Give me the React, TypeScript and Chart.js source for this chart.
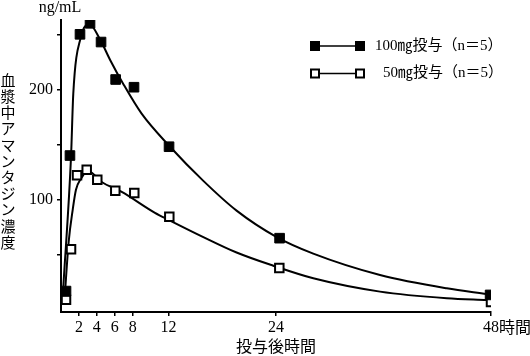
import { useEffect, useRef } from "react";
import { Chart, registerables } from "chart.js";

Chart.register(...registerables);

// ---- data ----
const xTickValues = [2, 4, 6, 8, 12, 24, 48];
const yTickValues = [50, 100, 150, 200, 250];
const yLabeledTicks = [100, 200];

const hours100 = [0.56, 1.0, 2.12, 3.24, 4.47, 6.1, 8.15, 12.06, 24.4, 47.9];
const conc100 = [17, 140, 250, 260, 243, 209, 202, 148, 65, 13.5];
const hours50 = [0.56, 1.12, 1.79, 2.87, 4.05, 6.06, 8.18, 12.09, 24.37, 48];
const conc50 = [9, 55, 122, 127, 118, 108, 106, 84.5, 38, 7];

// fitted curves
const curveHours100 = [0.26, 1.12, 1.37, 2.2, 3.2, 4.32, 5.47, 6.95, 9.0, 12.17, 15.89, 19.6, 24.08, 28.16, 35.61, 43.06, 47.52];
const curveConc100 = [21, 139, 196, 247, 259, 246, 227, 205, 178, 148, 117, 90, 66, 51, 31.6, 19.5, 14.4];
const curveHours50 = [0.4, 0.86, 1.31, 1.67, 2.23, 2.79, 3.1, 4.54, 6.78, 10.49, 12.17, 15.89, 19.6, 23.7, 28.16, 35.61, 43.06, 47.52];
const curveConc50 = [10, 62, 91, 109, 119, 125, 125.5, 116, 107, 88, 81, 66, 52, 40, 28.6, 16.5, 10.5, 8.9];

const seriesLabels = ["100㎎投与（n＝5）", "50㎎投与（n＝5）"];
const unitLabel = "ng/mL";
const yTitle = "血漿中アマンタジン濃度";
const xTitle = "投与後時間";
const xUnit = "時間";

const toXY = (xs: number[], ys: number[]) => xs.map((x, i) => ({ x, y: ys[i] }));

const SERIF = "'Liberation Serif', 'Noto Sans CJK JP', serif";
const CJK = "'Noto Sans CJK JP', sans-serif";

const extrasPlugin = {
  id: "extras",
  afterDraw(chart: any) {
    const ctx = chart.ctx as CanvasRenderingContext2D;
    ctx.save();
    ctx.fillStyle = "#000";
    ctx.strokeStyle = "#000";

    // unit
    ctx.font = `16px ${SERIF}`;
    ctx.textAlign = "center";
    ctx.textBaseline = "alphabetic";
    ctx.fillText(unitLabel, 60, 12);

    // vertical y title
    ctx.font = `15px ${CJK}`;
    ctx.textBaseline = "middle";
    Array.from(yTitle).forEach((c, i) => ctx.fillText(c, 8, 80 + i * 16.2));

    // x title
    ctx.font = `16px ${CJK}`;
    ctx.fillText(xTitle, 276, 346);

    // 時間 after the 48 tick
    const xs = chart.scales.x;
    const px = xs.getPixelForValue(48);
    ctx.font = `16px ${CJK}`;
    ctx.textAlign = "left";
    ctx.fillText(xUnit, px + 8, 327);

    // legend
    const rows = [
      { y: 46, filled: true, label: seriesLabels[0], tx: 375 },
      { y: 73.5, filled: false, label: seriesLabels[1], tx: 383 },
    ];
    rows.forEach((r) => {
      ctx.lineWidth = 1.5;
      ctx.beginPath();
      ctx.moveTo(315, r.y);
      ctx.lineTo(360, r.y);
      ctx.stroke();
      [315, 360].forEach((cx) => {
        if (r.filled) {
          ctx.fillStyle = "#000";
          ctx.fillRect(cx - 5, r.y - 5, 10, 10);
        } else {
          ctx.fillStyle = "#fff";
          ctx.fillRect(cx - 4, r.y - 4, 8, 8);
          ctx.lineWidth = 2;
          ctx.strokeRect(cx - 4, r.y - 4, 8, 8);
        }
      });
      ctx.fillStyle = "#000";
      ctx.font = `15px ${SERIF}`;
      ctx.textAlign = "left";
      ctx.textBaseline = "middle";
      ctx.fillText(r.label, r.tx, r.y);
    });

    ctx.restore();
  },
};

export default function App() {
  const ref = useRef<HTMLCanvasElement | null>(null);

  useEffect(() => {
    if (!ref.current) return;
    const chart = new Chart(ref.current, {
      type: "line",
      data: {
        datasets: [
          {
            label: seriesLabels[0],
            data: toXY(hours100, conc100),
            showLine: false,
            pointStyle: "rect",
            pointRadius: 6.8,
            pointBackgroundColor: "#000",
            pointBorderColor: "#000",
            pointBorderWidth: 1,
            order: 0,
          },
          {
            label: seriesLabels[1],
            data: toXY(hours50, conc50),
            showLine: false,
            pointStyle: "rect",
            pointRadius: 6,
            pointBackgroundColor: "#fff",
            pointBorderColor: "#000",
            pointBorderWidth: 2,
            order: 0,
          },
          {
            label: "fit100",
            data: toXY(curveHours100, curveConc100),
            borderColor: "#000",
            borderWidth: 2,
            pointRadius: 0,
            fill: false,
            cubicInterpolationMode: "monotone",
            order: 1,
          },
          {
            label: "fit50",
            data: toXY(curveHours50, curveConc50),
            borderColor: "#000",
            borderWidth: 2,
            pointRadius: 0,
            fill: false,
            cubicInterpolationMode: "monotone",
            order: 1,
          },
        ],
      },
      options: {
        responsive: false,
        animation: false,
        devicePixelRatio: 1,
        layout: { padding: { left: 0, top: 20, right: 39, bottom: 0 } },
        plugins: {
          legend: { display: false },
          tooltip: { enabled: false },
        },
        scales: {
          x: {
            type: "linear",
            min: 0,
            max: 48,
            afterBuildTicks: (s: any) => {
              s.ticks = xTickValues.map((v) => ({ value: v }));
            },
            afterFit: (s: any) => {
              s.height = 44;
            },
            ticks: {
              autoSkip: false,
              maxRotation: 0,
              padding: 2,
              color: "#000",
              font: { family: SERIF, size: 16 },
              callback: (v: any) => String(v),
            },
            grid: {
              drawOnChartArea: false,
              drawTicks: true,
              tickLength: 4,
              color: "#000",
              lineWidth: 1.5,
            },
            border: { display: true, color: "#000", width: 2 },
          },
          y: {
            type: "linear",
            min: -2,
            max: 263,
            afterBuildTicks: (s: any) => {
              s.ticks = yTickValues.map((v) => ({ value: v }));
            },
            afterFit: (s: any) => {
              s.width = 61;
            },
            ticks: {
              padding: 4,
              color: "#000",
              font: { family: SERIF, size: 16 },
              callback: (v: any) => (yLabeledTicks.includes(v) ? String(v) : ""),
            },
            grid: {
              drawOnChartArea: false,
              drawTicks: true,
              tickLength: 4,
              color: "#000",
              lineWidth: 1.5,
            },
            border: { display: true, color: "#000", width: 2 },
          },
        },
      },
      plugins: [extrasPlugin],
    } as any);
    return () => chart.destroy();
  }, []);

  return (
    <div style={{ position: "absolute", left: 0, top: 0, width: 530, height: 356, background: "#fff" }}>
      <canvas ref={ref} width={530} height={356} style={{ width: 530, height: 356, display: "block" }} />
    </div>
  );
}
